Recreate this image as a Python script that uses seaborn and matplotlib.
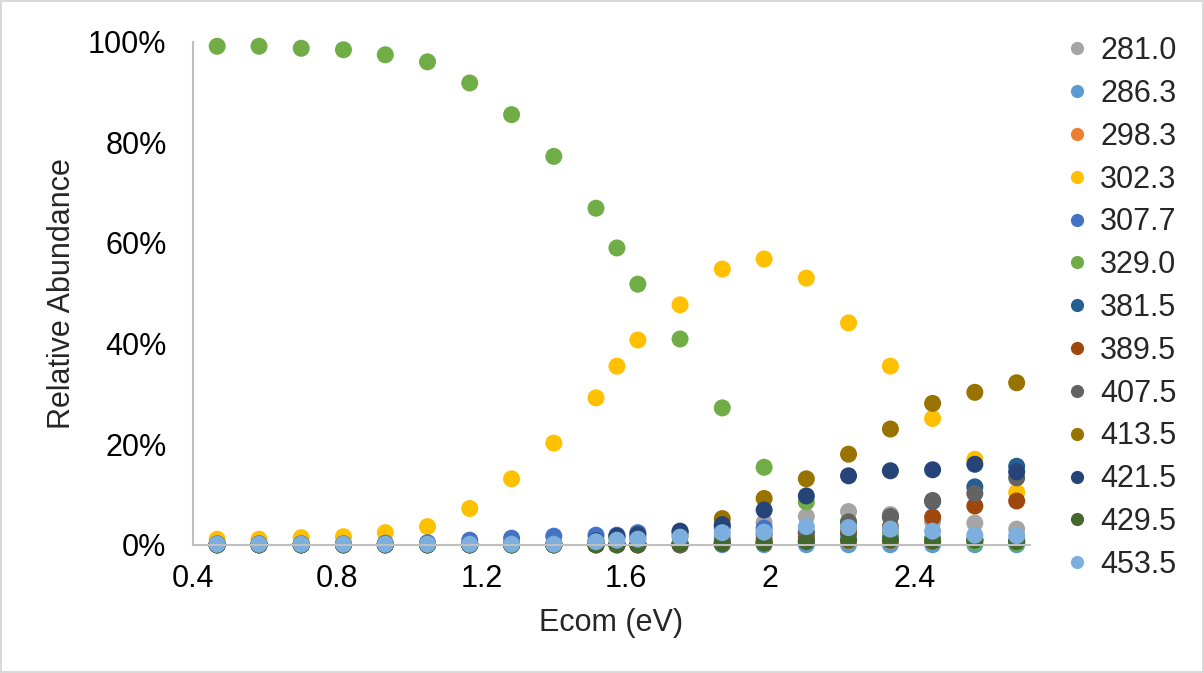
import matplotlib
matplotlib.use("Agg")
import pandas as pd
import seaborn as sns
import matplotlib.pyplot as plt
from matplotlib.lines import Line2D
from matplotlib.ticker import FuncFormatter

# collision energy (eV)
ecom = [0.467, 0.583, 0.700, 0.817, 0.933, 1.050, 1.167, 1.283, 1.400, 1.517, 1.575,
        1.633, 1.750, 1.867, 1.983, 2.100, 2.217, 2.333, 2.450, 2.567, 2.683]

# relative abundance (%) per fragment m/z
s281_0 = [0, 0, 0, 0, 0, 0, 0, 0, 0, 0, 0, 0, 0.3, 1.5, 4.4, 5.6, 6.6, 6.0, 4.6, 4.3, 3.1]
s286_3 = [0, 0, 0, 0, 0, 0, 0, 0, 0, 0, 0, 0, 0, 0, 0, 0, 0, 0, 0, 0, 0]
s298_3 = [0, 0, 0, 0, 0, 0, 0, 0, 0, 0, 0, 0, 0, 0.2, 0.3, 0.6, 0.8, 0.8, 0.6, 0.8, 0.5]
s302_3 = [1.1, 1.1, 1.4, 1.6, 2.4, 3.6, 7.2, 13.1, 20.2, 29.2, 35.5, 40.7, 47.7, 54.8, 56.8,
          53.0, 44.1, 35.5, 25.1, 17.0, 10.4]
s307_7 = [0.2, 0.2, 0.2, 0.2, 0.3, 0.4, 0.9, 1.3, 1.7, 1.9, 1.9, 2.4, 2.6, 3.5, 3.3, 2.5,
          2.0, 1.5, 1.2, 1.0, 0.8]
s329_0 = [99.1, 99.1, 98.7, 98.4, 97.4, 96.0, 91.8, 85.5, 77.2, 66.9, 59.0, 51.8, 40.9,
          27.2, 15.4, 8.5, 4.6, 2.5, 1.2, 0.5, 0.3]
s381_5 = [0, 0, 0, 0, 0, 0, 0, 0, 0, 0, 0, 0, 0, 0.2, 0.4, 0.8, 3.3, 5.5, 8.6, 11.5, 15.6]
s389_5 = [0, 0, 0, 0, 0, 0, 0, 0, 0, 0, 0, 0, 0, 0.3, 1.0, 1.5, 2.6, 3.6, 5.5, 7.7, 8.7]
s407_5 = [0, 0, 0, 0, 0, 0, 0, 0, 0, 0, 0, 0, 0, 0.8, 2.0, 2.3, 4.5, 5.6, 8.8, 10.2, 13.3]
s413_5 = [0, 0, 0, 0, 0, 0, 0, 0, 0, 0, 1.5, 1.3, 2.0, 5.2, 9.2, 13.1, 18.0, 23.0, 28.1,
          30.3, 32.2]
s421_5 = [0, 0, 0, 0, 0, 0, 0, 0, 0, 0.8, 1.7, 2.0, 2.7, 4.0, 6.9, 9.7, 13.7, 14.7, 14.9,
          16.0, 14.5]
s429_5 = [0, 0, 0, 0, 0, 0, 0, 0, 0, 0, 0, 0, 0.2, 0.3, 0.3, 0.6, 0.9, 0.9, 0.7, 0.9, 0.6]
s453_5 = [0.1, 0.1, 0.1, 0.1, 0.1, 0.1, 0.1, 0.1, 0.1, 0.6, 0.9, 1.1, 1.5, 2.4, 2.5, 3.6,
          3.4, 3.1, 2.7, 1.9, 1.8]

labels = ["281.0", "286.3", "298.3", "302.3", "307.7", "329.0", "381.5",
          "389.5", "407.5", "413.5", "421.5", "429.5", "453.5"]
series = [s281_0, s286_3, s298_3, s302_3, s307_7, s329_0, s381_5,
          s389_5, s407_5, s413_5, s421_5, s429_5, s453_5]
colors = ["#A5A5A5", "#5B9BD5", "#ED7D31", "#FFC000", "#4472C4", "#70AD47", "#255E91",
          "#9E480E", "#636363", "#997300", "#264478", "#43682B", "#7CAFDD"]
palette = dict(zip(labels, colors))

df = pd.concat([pd.DataFrame({"Ecom": ecom, "abund": vals, "mass": name})
                for name, vals in zip(labels, series)], ignore_index=True)

sns.set_style("white")
plt.rcParams['font.family'] = ['Liberation Sans', 'DejaVu Sans']
fs = 22

fig = plt.figure(figsize=(12.04, 6.73), dpi=100)
fig.patch.set_edgecolor("#D9D9D9")
fig.patch.set_linewidth(1.5)
ax = fig.add_axes([0.1603, 0.1906, 0.6952, 0.7474])

sns.scatterplot(data=df, x="Ecom", y="abund", hue="mass", hue_order=labels,
                palette=palette, s=150, linewidth=0, alpha=1, ax=ax, legend=False)

ax.set_xlim(0.4, 2.72)
ax.set_ylim(0, 100)
ax.set_xticks([0.4, 0.8, 1.2, 1.6, 2.0, 2.4])
ax.set_xticklabels(["0.4", "0.8", "1.2", "1.6", "2", "2.4"])
ax.set_yticks([0, 20, 40, 60, 80, 100])
ax.yaxis.set_major_formatter(FuncFormatter(lambda v, p: f"{v:.0f}%"))
ax.tick_params(axis="both", labelsize=fs, colors="#BFBFBF", labelcolor="black",
               length=5, width=1.2, direction="out")
ax.tick_params(axis="x", pad=9)
ax.tick_params(axis="y", pad=14)
for side in ["top", "right"]:
    ax.spines[side].set_visible(False)
for side in ["left", "bottom"]:
    ax.spines[side].set_color("#BFBFBF")
    ax.spines[side].set_linewidth(1.5)
ax.set_xlabel("Ecom (eV)", fontsize=fs, labelpad=10)
ax.set_ylabel("Relative Abundance", fontsize=fs, labelpad=8)
for c in ax.collections:
    c.set_clip_on(False)

handles = [Line2D([], [], marker="o", linestyle="", markersize=9.5, markerfacecolor=c,
                  markeredgewidth=0) for c in colors]
fig.legend(handles, labels, loc="upper left", bbox_to_anchor=(1065 / 1204, 1 - 36 / 673),
           frameon=False, fontsize=fs, labelspacing=0.42, handlelength=0.8,
           handletextpad=0.35, borderaxespad=0, borderpad=0)

fig.savefig("out.png", dpi=100, edgecolor=fig.get_edgecolor())
